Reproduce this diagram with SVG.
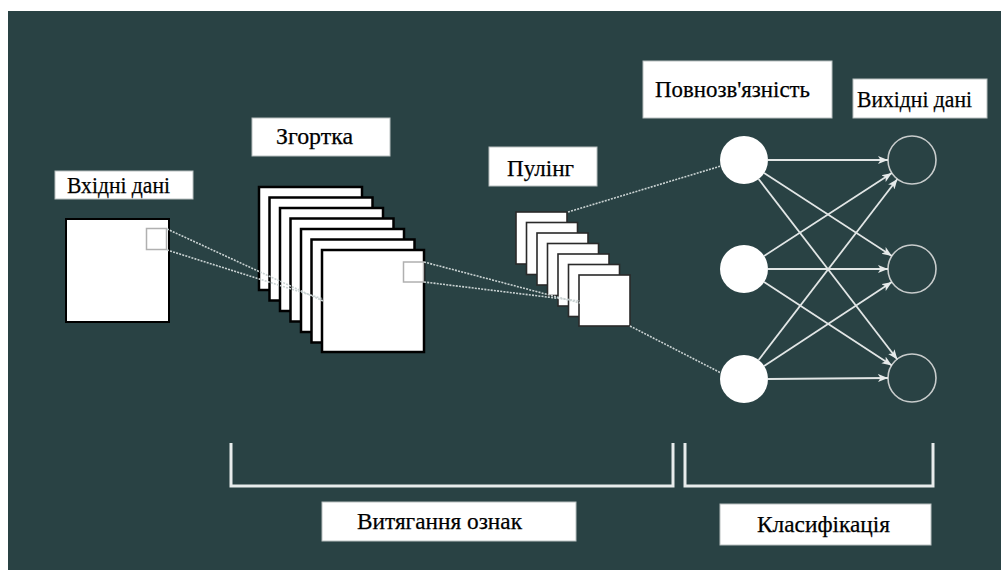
<svg xmlns="http://www.w3.org/2000/svg" width="1001" height="570" viewBox="0 0 1001 570">
<defs>
<style>
.lbl{fill:#ffffff;stroke:#b9c0c0;stroke-width:1}
.t{font-family:'Liberation Serif','DejaVu Serif','Times New Roman',serif;font-size:23.5px;fill:#000;stroke:#000;stroke-width:0.25}
.sq{fill:#ffffff;stroke:#000;stroke-width:2.5}
.psq{fill:#ffffff;stroke:#2a2a2a;stroke-width:1.6}
.dot{stroke:#c9d2d2;stroke-width:1.6;stroke-dasharray:2 1.2;fill:none}
.arr{stroke:#e2e6e6;stroke-width:1.8;fill:none;marker-end:url(#ah)}
.nin{fill:#ffffff}
.nout{fill:none;stroke:#c8cccc;stroke-width:1.6}
.br{fill:none;stroke:#e8ecec;stroke-width:3}
</style>
<marker id="ah" markerUnits="userSpaceOnUse" markerWidth="11" markerHeight="9" refX="10" refY="4.5" orient="auto">
<path d="M0,0.5 L10,4.5 L0,8.5 L2.5,4.5 z" fill="#e6eaea"/>
</marker>
</defs>
<rect x="0" y="0" width="1001" height="570" fill="#ffffff"/>
<rect x="8" y="11" width="993" height="559" fill="#294244"/>

<g id="input">
<rect class="lbl" x="55" y="171" width="138" height="28"/>
<text class="t" font-family="Liberation Serif, DejaVu Serif, serif" x="67" y="193" textLength="103" lengthAdjust="spacingAndGlyphs">Вхідні дані</text>
<rect x="66" y="219" width="103" height="103" fill="#fff" stroke="#000" stroke-width="2"/>
<rect x="146.5" y="228.5" width="20" height="21" fill="#fff" stroke="#b0b0b0" stroke-width="1.5"/>
</g>

<g id="convolution">
<rect class="lbl" x="252" y="118" width="138" height="38"/>
<text class="t" font-family="Liberation Serif, DejaVu Serif, serif" x="276" y="144" textLength="77" lengthAdjust="spacingAndGlyphs">Згортка</text>
<rect class="sq" x="259" y="187" width="103" height="103"/>
<rect class="sq" x="269.5" y="197.5" width="103" height="103"/>
<rect class="sq" x="280" y="208" width="103" height="103"/>
<rect class="sq" x="290.5" y="218.5" width="103" height="103"/>
<rect class="sq" x="301" y="229" width="103" height="103"/>
<rect class="sq" x="311.5" y="239.5" width="103" height="103"/>
<rect class="sq" x="322" y="250" width="102" height="102"/>
<rect x="403.5" y="262" width="20" height="20" fill="#fff" stroke="#b0b0b0" stroke-width="1.5"/>
</g>

<g id="pooling">
<rect class="lbl" x="489" y="147" width="108" height="39"/>
<text class="t" font-family="Liberation Serif, DejaVu Serif, serif" x="507" y="176" textLength="67" lengthAdjust="spacingAndGlyphs">Пулінг</text>
<rect class="psq" x="516" y="212" width="51" height="52"/>
<rect class="psq" x="526.5" y="222.5" width="51" height="52"/>
<rect class="psq" x="537" y="233" width="51" height="52"/>
<rect class="psq" x="547.5" y="243.5" width="51" height="52"/>
<rect class="psq" x="558" y="254" width="51" height="52"/>
<rect class="psq" x="568.5" y="264.5" width="51" height="52"/>
<rect class="psq" x="579" y="275" width="51" height="51"/>
</g>

<g id="fully-connected">
<rect class="lbl" x="643" y="61" width="189" height="57"/>
<text class="t" font-family="Liberation Serif, DejaVu Serif, serif" x="655" y="97" textLength="155" lengthAdjust="spacingAndGlyphs">Повнозв'язність</text>
<circle class="nin" cx="744" cy="160" r="24"/>
<circle class="nin" cx="744" cy="269" r="24"/>
<circle class="nin" cx="744" cy="379" r="24"/>
</g>

<g id="output">
<rect class="lbl" x="853" y="79" width="134" height="39"/>
<text class="t" font-family="Liberation Serif, DejaVu Serif, serif" x="857" y="107" textLength="115" lengthAdjust="spacingAndGlyphs">Вихідні дані</text>
<circle class="nout" cx="912" cy="160" r="24"/>
<circle class="nout" cx="912" cy="269" r="24"/>
<circle class="nout" cx="912" cy="378" r="24"/>
</g>

<g id="connectors">
<line class="dot" x1="167" y1="229" x2="323" y2="301"/>
<line class="dot" x1="167" y1="250" x2="323" y2="299"/>
<line class="dot" x1="424" y1="262" x2="580" y2="303"/>
<line class="dot" x1="424" y1="282" x2="580" y2="301"/>
<line class="dot" x1="568" y1="212" x2="721" y2="166"/>
<line class="dot" x1="630" y1="326" x2="721" y2="373"/>
<line class="arr" x1="768" y1="160" x2="888" y2="160"/>
<line class="arr" x1="764.1" y1="173.1" x2="891.9" y2="255.9"/>
<line class="arr" x1="758.6" y1="179" x2="897.4" y2="359.5"/>
<line class="arr" x1="764.1" y1="255.9" x2="891.9" y2="173.1"/>
<line class="arr" x1="768" y1="269" x2="888" y2="269"/>
<line class="arr" x1="764.1" y1="282.1" x2="891.9" y2="365.4"/>
<line class="arr" x1="758.6" y1="360" x2="897.4" y2="179"/>
<line class="arr" x1="764.1" y1="365.9" x2="891.9" y2="282.1"/>
<line class="arr" x1="768" y1="379" x2="888" y2="378"/>
</g>

<g id="feature-extraction">
<path class="br" d="M231,443 V486 H673 V443"/>
<rect class="lbl" x="322" y="502" width="254" height="39"/>
<text class="t" font-family="Liberation Serif, DejaVu Serif, serif" x="357" y="529" textLength="165" lengthAdjust="spacingAndGlyphs">Витягання ознак</text>
</g>

<g id="classification">
<path class="br" d="M685,443 V486 H933 V443"/>
<rect class="lbl" x="720" y="504" width="211" height="41"/>
<text class="t" font-family="Liberation Serif, DejaVu Serif, serif" x="757" y="532" textLength="133" lengthAdjust="spacingAndGlyphs">Класифікація</text>
</g>
</svg>
